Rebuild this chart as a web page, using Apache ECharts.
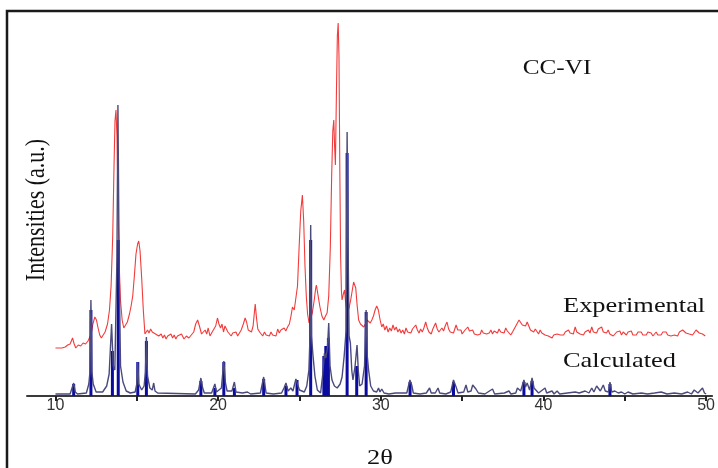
<!DOCTYPE html>
<html>
<head>
<meta charset="utf-8">
<script src="https://cdn.jsdelivr.net/npm/echarts@6/dist/echarts.min.js"></script>
<style>
html,body{margin:0;padding:0;background:#fff;}
#chart{width:718px;height:468px;}
</style>
</head>
<body>
<div id="chart"></div>
<script>
// X ticks (2θ) and labels
var labelTicks = [10, 20, 30, 40, 50];
var allTicks = [10, 15, 20, 25, 30, 35, 40, 45, 50];

// Experimental pattern [2θ, intensity a.u.]
var expData = [
[10.0,48],[10.2,48],[10.4,48],[10.6,49],[10.75,51],[10.9,52],[11.05,58],[11.15,52],[11.25,48],[11.4,51],[11.55,50],[11.7,53],[11.85,52],[12.0,55],[12.1,57],[12.2,62],[12.3,72],[12.42,79],[12.52,76],[12.62,68],[12.72,61],[12.82,58],[12.92,60],[13.05,64],[13.2,72],[13.32,86],[13.42,110],[13.52,160],[13.6,230],[13.66,275],[13.72,286],[13.78,260],[13.85,190],[13.92,130],[14.0,95],[14.1,76],[14.2,68],[14.3,70],[14.42,74],[14.55,82],[14.65,90],[14.75,100],[14.85,120],[14.95,142],[15.05,152],[15.12,155],[15.2,145],[15.3,118],[15.4,86],[15.5,62],[15.58,60],[15.66,66],[15.75,63],[15.85,67],[15.95,64],[16.05,66],[16.15,62],[16.25,64],[16.35,60],[16.5,62],[16.6,58],[16.7,61],[16.8,57],[16.9,60],[17.0,59],[17.1,62],[17.2,58],[17.3,61],[17.4,57],[17.5,60],[17.6,58],[17.75,62],[17.9,57],[18.05,60],[18.2,58],[18.35,61],[18.5,64],[18.62,72],[18.74,76],[18.85,70],[18.98,62],[19.1,60],[19.2,66],[19.3,62],[19.39,68],[19.5,60],[19.6,63],[19.72,62],[19.85,70],[19.96,78],[20.05,72],[20.15,68],[20.24,72],[20.33,64],[20.42,70],[20.5,72],[20.6,64],[20.7,62],[20.8,60],[20.9,63],[21.0,61],[21.1,64],[21.2,60],[21.3,62],[21.42,66],[21.55,72],[21.66,78],[21.75,74],[21.85,66],[21.93,68],[22.05,64],[22.15,70],[22.28,92],[22.36,78],[22.44,67],[22.55,64],[22.65,62],[22.74,60],[22.85,64],[22.95,61],[23.05,63],[23.15,60],[23.25,64],[23.35,61],[23.46,63],[23.56,60],[23.66,67],[23.76,63],[23.86,66],[23.96,64],[24.06,68],[24.16,65],[24.27,69],[24.38,72],[24.48,80],[24.57,89],[24.68,86],[24.78,84],[24.88,110],[24.98,149],[25.08,185],[25.18,201],[25.26,175],[25.34,130],[25.42,100],[25.5,82],[25.59,73],[25.7,78],[25.79,83],[25.9,95],[26.0,108],[26.04,111],[26.15,100],[26.26,89],[26.38,80],[26.5,76],[26.6,80],[26.7,83],[26.8,100],[26.9,150],[26.98,220],[27.05,265],[27.11,276],[27.16,250],[27.21,231],[27.27,300],[27.33,360],[27.38,373],[27.43,340],[27.48,230],[27.53,140],[27.58,105],[27.62,96],[27.7,102],[27.77,106],[27.85,92],[27.93,83],[28.05,88],[28.15,96],[28.25,106],[28.33,114],[28.39,116],[28.46,108],[28.55,90],[28.64,76],[28.75,72],[28.85,70],[28.95,69],[29.05,72],[29.15,76],[29.25,74],[29.35,73],[29.45,76],[29.55,80],[29.65,86],[29.75,90],[29.85,86],[29.96,76],[30.06,69],[30.15,72],
[30.25,66],[30.35,70],[30.45,64],[30.55,68],[30.65,65],[30.75,71],[30.85,66],[30.95,69],[31.05,64],[31.15,67],[31.25,63],[31.35,66],[31.45,62],[31.55,68],[31.65,64],[31.75,66],[31.85,63],[31.95,67],[32.05,65],[32.15,71],[32.25,66],[32.35,63],[32.45,67],[32.55,64],[32.65,68],[32.76,74],[32.86,68],[32.96,64],[33.1,62],[33.2,67],[33.28,65],[33.37,73],[33.47,67],[33.57,64],[33.66,62],[33.76,68],[33.86,65],[33.96,70],[34.07,74],[34.17,67],[34.27,64],[34.37,66],[34.47,63],[34.55,67],[34.63,71],[34.73,66],[34.83,64],[34.93,66],[35.0,62],[35.08,63],[35.18,66],[35.28,64],[35.35,69],[35.45,65],[35.55,63],[35.65,66],[35.75,62],[35.85,64],[35.95,61],[36.02,59],[36.12,62],[36.2,66],[36.3,63],[36.4,65],[36.5,62],[36.6,64],[36.67,63],[36.77,66],[36.87,62],[36.97,65],[37.07,66],[37.17,63],[37.27,67],[37.37,64],[37.47,66],[37.58,63],[37.68,68],[37.78,65],[37.88,63],[37.99,61],[38.1,64],[38.2,66],[38.3,70],[38.4,72],[38.5,76],[38.6,74],[38.7,71],[38.8,73],[38.9,70],[39.0,74],[39.1,70],[39.2,66],[39.3,68],[39.4,64],[39.5,67],[39.6,65],[39.7,62],[39.8,66],[39.9,63],[40.0,64],[40.1,61],[40.2,63],[40.3,60],[40.42,62],[40.53,58],[40.63,61],[40.73,59],[40.84,62],[40.94,60],[41.04,61],[41.14,63],[41.24,61],[41.34,64],[41.44,62],[41.54,66],[41.64,63],[41.74,65],[41.84,62],[41.95,69],[42.05,64],[42.15,66],[42.25,62],[42.36,63],[42.46,61],[42.56,64],[42.66,62],[42.76,66],[42.86,63],[42.97,69],[43.07,64],[43.17,66],[43.27,63],[43.37,67],[43.48,66],[43.58,69],[43.68,64],[43.78,66],[43.88,63],[43.98,66],[44.08,62],[44.18,64],[44.29,60],[44.39,61],[44.5,64],[44.6,62],[44.7,65],[44.8,61],[44.9,64],[45.0,63],[45.1,61],[45.2,64],[45.3,62],[45.4,65],[45.5,61],[45.61,63],[45.71,61],[45.81,64],[45.91,62],[46.01,64],[46.11,61],[46.22,63],[46.32,61],[46.42,64],[46.52,62],[46.62,63],[46.73,60],[46.83,61],[46.93,64],[47.03,61],[47.13,63],[47.23,61],[47.34,64],[47.44,62],[47.54,64],[47.64,61],[47.74,63],[47.84,60],[47.95,62],[48.05,61],[48.15,63],[48.25,60],[48.36,64],[48.46,63],[48.56,66],[48.66,67],[48.76,63],[48.86,65],[48.96,62],[49.07,64],[49.17,61],[49.27,63],[49.38,66],[49.48,66],[49.58,63],[49.68,64],[49.78,62],[49.88,61],[49.95,60]
];

// Calculated pattern profile [2θ, intensity a.u.]
var calcData = [
[10.0,2],[10.9,2],[11.0,4],[11.12,13],[11.22,4],[11.35,2],[11.9,3],[12.05,12],[12.12,24],[12.18,96],[12.24,24],[12.32,12],[12.5,4],[12.9,4],[13.15,10],[13.3,22],[13.45,72],[13.55,30],[13.65,26],[13.78,139],[13.84,291],[13.92,120],[14.0,30],[14.15,14],[14.35,5],[14.6,3],[14.9,4],[15.0,12],[15.06,34],[15.12,12],[15.3,6],[15.45,10],[15.53,24],[15.59,59],[15.66,20],[15.8,8],[15.95,6],[16.04,13],[16.12,5],[16.28,3],[16.34,5],[16.4,2],
[18.6,2],[18.8,6],[18.94,18],[19.05,8],[19.15,3],[19.6,3],[19.8,12],[19.9,4],[20.0,3],[20.2,8],[20.35,35],[20.45,13],[20.55,5],[20.85,5],[21.0,14],[21.1,4],[21.5,3],[21.6,5],[21.8,4],[22.0,2],[22.6,3],[22.8,19],[22.95,3],[23.4,2],[23.9,3],[24.05,8],[24.17,13],[24.3,5],[24.47,8],[24.6,5],[24.78,17],[24.88,18],[25.0,6],[25.3,4],[25.45,10],[25.58,26],[25.65,60],[25.69,171],[25.74,60],[25.83,41],[25.95,20],[26.1,6],[26.3,3],[26.42,20],[26.54,43],[26.62,38],[26.72,48],[26.8,73],[26.88,30],[27.0,16],[27.15,10],[27.32,8],[27.5,12],[27.62,19],[27.75,40],[27.87,66],[27.93,264],[27.99,150],[28.05,60],[28.13,53],[28.22,25],[28.29,16],[28.42,30],[28.54,51],[28.62,25],[28.7,10],[28.85,12],[29.0,30],[29.1,86],[29.17,40],[29.25,26],[29.38,10],[29.55,5],[29.75,4],[29.86,8],[29.95,4],[30.06,7],[30.2,3],
[30.5,2],[30.9,3],[31.0,2],[31.6,3],[31.79,16],[31.9,11],[32.0,3],[32.4,2],[32.8,3],[33.0,8],[33.1,3],[33.35,3],[33.52,8],[33.62,3],[34.0,2],[34.3,4],[34.47,16],[34.63,9],[34.75,3],[35.1,4],[35.24,11],[35.35,4],[35.55,5],[35.65,11],[35.85,7],[36.0,3],[36.4,2],[36.87,7],[37.0,2],[37.6,3],[37.88,5],[38.0,2],[38.3,3],[38.4,8],[38.6,5],[38.8,16],[38.9,9],[39.0,13],[39.15,6],[39.3,18],[39.42,8],[39.5,6],[39.7,3],[40.1,8],[40.2,3],[40.53,5],[40.65,2],[40.84,5],[41.0,2],[41.95,4],[42.2,3],[42.56,5],[42.8,3],[42.97,8],[43.1,4],[43.27,10],[43.37,9],[43.5,5],[43.68,11],[43.8,5],[43.88,7],[44.0,4],[44.09,14],[44.2,4],[44.39,5],[44.6,3],[44.8,4],[45.0,2],[45.2,4],[45.5,2],[46.02,3],[46.4,2],[46.83,3],[47.24,4],[47.6,2],[48.05,3],[48.5,2],[48.86,4],[49.1,2],[49.27,6],[49.5,3],[49.78,8],[49.9,3],[50.0,2]
];

// Calculated reflections (dark sticks) [2θ, intensity a.u.]
var stickData = [
[11.12,12],[12.18,86],[13.5,45],[13.86,156],[15.06,34],[15.59,55],[18.94,15],[19.8,8],[20.35,34],[21.0,8],[22.8,17],[24.17,10],[24.85,16],[25.69,156],[26.5,40],[26.62,50],[26.78,58],[27.93,243],[28.52,30],[29.1,84],[31.8,14],[34.47,14],[38.8,14],[39.3,15],[44.09,12]
];

var chart = echarts.init(document.getElementById('chart'), null, {renderer: 'canvas'});
var serif = '"Liberation Serif", "Times New Roman", "DejaVu Serif", serif';
chart.setOption({
  animation: false,
  backgroundColor: '#fff',
  grid: {left: 27, right: 0, top: 14, bottom: 72, containLabel: false},
  xAxis: {
    type: 'value', min: 8.25, max: 50.37,
    splitLine: {show: false},
    axisLine: {show: true, onZero: false, lineStyle: {color: '#3a3a3a', width: 2}},
    axisTick: {show: true, customValues: allTicks, length: 5, inside: false, lineStyle: {color: '#222', width: 2}},
    axisLabel: {show: true, customValues: labelTicks, margin: 2, color: '#333', fontSize: 16,
      fontFamily: '"Liberation Sans", Arial, sans-serif', showMaxLabel: true, showMinLabel: true,
      alignMaxLabel: 'center', alignMinLabel: 'center', hideOverlap: false}
  },
  yAxis: {type: 'value', min: 0, max: 382, show: false},
  series: [
    {type: 'line', data: expData, showSymbol: false, symbol: 'none', z: 2,
     lineStyle: {color: '#f23b3b', width: 1.1}},
    {type: 'bar', data: stickData, barWidth: 3, z: 3, itemStyle: {color: '#0b0ba0'}},
    {type: 'line', data: calcData, showSymbol: false, symbol: 'none', z: 4,
     lineStyle: {color: '#4a4a7c', width: 1.4}}
  ],
  graphic: [
    {type: 'rect', shape: {x: 7, y: 11, width: 760, height: 520}, z: 10,
     style: {fill: null, stroke: '#1a1a1a', lineWidth: 2.5}},
    {type: 'text', x: 557, y: 68, scaleX: 1.2, z: 10,
     style: {text: 'CC-VI', font: '21px ' + serif, fill: '#111', align: 'center', verticalAlign: 'middle'}},
    {type: 'text', x: 563, y: 306, scaleX: 1.2, z: 10,
     style: {text: 'Experimental', font: '22px ' + serif, fill: '#111', align: 'left', verticalAlign: 'middle'}},
    {type: 'text', x: 563, y: 361, scaleX: 1.2, z: 10,
     style: {text: 'Calculated', font: '22px ' + serif, fill: '#111', align: 'left', verticalAlign: 'middle'}},
    {type: 'text', x: 380, y: 458, scaleX: 1.2, z: 10,
     style: {text: '2θ', font: '22px ' + serif, fill: '#111', align: 'center', verticalAlign: 'middle'}},
    {type: 'text', x: 37, y: 210, rotation: Math.PI / 2, scaleY: 1.2, z: 10,
     style: {text: 'Intensities (a.u.)', font: '22px ' + serif, fill: '#111', align: 'center', verticalAlign: 'middle'}}
  ]
});
</script>
</body>
</html>
